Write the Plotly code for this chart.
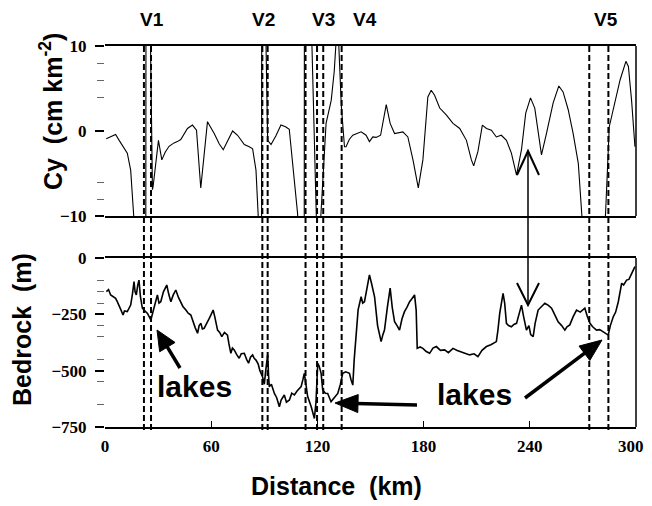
import math
import plotly.graph_objects as go

# ---------------- data ----------------
cy_km = [0.7, 3.5, 6.0, 8.0, 9.8, 12.6, 14.5, 16.4, 17.5, 22.9, 23.3, 25.6, 26.8, 27.2,
         30.2, 32.1, 34.0, 36.2, 39.0, 40.9, 42.8, 44.5, 46.6, 49.4, 51.7, 54.1, 57.9,
         61.7, 64.5, 66.8, 69.5, 72.1, 74.9, 78.7, 81.5, 83.4, 85.3, 86.2, 86.8, 88.3,
         88.7, 90.9, 91.9, 93.8, 96.5, 99.4, 102.0, 104.1, 106.5, 108.8, 109.5, 112.4,
         112.8, 116.8, 119.5, 121.8, 124.9, 127.8, 129.5, 130.6, 131.3, 132.1, 133.5,
         135.3, 136.2, 138.0, 140.0, 144.7, 147.5, 149.4, 151.3, 153.2, 155.7, 158.9,
         161.1, 163.6, 168.3, 171.1, 174.0, 177.0, 179.6, 182.4, 184.3, 186.2, 189.1,
         192.8, 196.6, 200.4, 204.2, 207.0, 208.3, 210.7, 213.2, 215.5, 218.3, 221.1,
         223.9, 226.8, 229.6, 232.5, 235.3, 237.7, 240.4, 242.8, 246.6, 249.4, 253.2,
         256.4, 258.8, 261.7, 264.5, 267.4, 269.6, 270.5, 276.0, 282.0, 282.8, 284.9,
         288.1, 291.0, 294.3, 295.7, 297.5, 299.4]
cy_val = [-0.9, -0.6, -0.4, -1.1, -1.7, -2.6, -4.6, -9.9, -14, -60, 60, 12, -6.9, -6.5,
          -1.1, -3.4, -2.5, -1.8, -1.4, -1.25, -1.0, -0.4, 0.3, 0.7, 0.1, -6.7, 1.1,
          -0.3, -1.5, -2.2, -1.0, 0.0, -0.5, -1.6, -1.85, -2.1, -4.6, -8.5, -11, -60,
          60, 11, -1.1, -1.6, -0.6, 0.7, 0.5, 0.2, -5.0, -9.7, -13, -60,
          60, 11, -11, -10.5, 0.9, 3.6, 7.0, 10.0, 13.0, 10.0, 3.0,
          -1.85, -1.85, -1.0, -0.5, -0.1, -0.5, -1.25, -0.7, -0.75, -0.5, 3.1,
          0.9, -0.3, -0.1, -0.7, -3.4, -6.7, -3.4, 4.0, 4.8, 4.2, 2.7,
          1.9, 0.9, 0.3, -1.1, -3.4, -4.1, -2.4, 0.7, 0.3, 0.1, -0.7,
          -0.5, -1.1, -2.6, -5.2, -2.2, 2.1, 3.9, 2.7, -2.8, -0.3, 3.3,
          5.3, 4.6, 2.5, -0.3, -3.8, -9.7, -12, -30, -12, -9.7, 0.5,
          3.3, 6.0, 8.2, 7.6, 3.6, -1.85]

bed_km = [0.75, 2.0, 3.2, 4.5, 6.0, 7.0, 7.9, 9.0, 10.2, 11.0, 12.6, 13.5, 14.5, 15.5,
          16.4, 17.0, 17.7, 18.5, 19.2, 20.0, 21.1, 22.5, 24.0, 25.9, 27.0, 27.7, 28.5,
          29.6, 30.5, 31.5, 33.0, 34.9, 36.0, 37.2, 38.5, 40.0, 41.5, 42.8, 44.0, 45.7,
          47.0, 48.5, 50.0, 51.0, 52.3, 53.2, 54.2, 55.0, 56.0, 57.5, 58.9, 60.0, 61.1,
          62.0, 63.6, 64.8, 66.0, 67.5, 69.2, 70.0, 71.1, 72.0, 73.0, 74.5, 75.8, 77.0,
          78.7, 80.0, 81.1, 82.2, 83.4, 84.3, 85.3, 86.5, 87.5, 89.0, 90.0, 90.8, 91.9,
          92.4, 92.8, 94.0, 95.7, 97.0, 98.5, 99.5, 101.3, 102.5, 104.2, 105.5, 107.0,
          108.5, 110.8, 111.8, 112.6, 113.5, 114.5, 116.5, 118.3, 119.2, 120.2, 121.0,
          122.1, 123.0, 124.5, 125.8, 127.7, 129.5, 131.5, 133.0, 134.3, 136.0, 138.1,
          139.0, 140.0, 140.8, 141.9, 143.0, 144.7, 145.6, 146.6, 148.0, 149.4, 150.5,
          152.3, 154.0, 156.0, 157.0, 157.9, 159.5, 161.1, 162.3, 163.6, 165.0, 166.4,
          167.8, 169.2, 170.5, 172.1, 173.5, 174.9, 175.8, 176.4, 178.0, 179.6, 181.5,
          183.4, 185.3, 187.2, 189.5, 191.9, 194.0, 196.6, 199.0, 201.3, 203.5, 206.0,
          208.5, 210.7, 213.0, 215.5, 218.0, 221.1, 222.0, 223.0, 224.9, 225.8, 226.8,
          228.0, 229.6, 231.0, 232.5, 234.0, 235.3, 236.5, 238.1, 239.5, 240.5, 241.9,
          243.0, 244.7, 246.5, 248.5, 250.5, 252.3, 254.0, 256.0, 258.0, 259.8, 261.0,
          262.6, 264.5, 266.4, 268.5, 271.1, 272.5, 274.0, 275.5, 277.7, 279.5, 281.5,
          283.0, 284.3, 285.5, 287.2, 288.5, 290.0, 291.9, 293.0, 294.7, 296.0, 297.6,
          299.4]
bed_m = [-149, -140, -164, -170, -179, -195, -209, -230, -253, -235, -238, -225, -209, -160,
         -105, -150, -164, -120, -98, -170, -223, -235, -246, -275, -240, -216, -190,
         -164, -200, -194, -150, -120, -160, -194, -165, -142, -175, -194, -215, -231,
         -245, -253, -290, -310, -334, -300, -290, -315, -312, -285, -268, -250, -231,
         -260, -320, -330, -349, -330, -342, -380, -423, -400, -408, -430, -445, -425,
         -423, -450, -467, -440, -430, -445, -453, -470, -500, -527, -560, -500, -430,
         -520, -571, -560, -601, -620, -660, -630, -608, -640, -630, -600, -608,
         -590, -571, -540, -512, -560, -615, -660, -712, -640, -467, -480,
         -512, -586, -600, -601, -638, -620, -601, -560, -512, -505, -512,
         -540, -564, -450, -320, -230, -172, -200, -194, -130, -75, -110,
         -172, -300, -371, -340, -320, -220, -134, -220, -283, -300, -320,
         -270, -238, -220, -194, -180, -164, -231, -401, -395, -401, -415,
         -423, -400, -393, -410, -408, -420, -401, -410, -416, -425, -430,
         -425, -438, -410, -393, -385, -371, -320, -246, -157, -200, -290,
         -300, -305, -295, -290, -250, -209, -260, -320, -300, -340, -349,
         -290, -231, -215, -201, -210, -223, -250, -283, -300, -320, -305,
         -297, -260, -231, -240, -223, -260, -290, -305, -320, -318, -327,
         -335, -342, -300, -260, -240, -194, -112, -120, -98, -95, -68,
         -38]

vline_km = [22.0, 26.0, 88.9, 91.9, 113.3, 119.8, 123.3, 133.7, 273.6, 284.4]
v_labels = ["V1", "V2", "V3", "V4", "V5"]
v_label_km = [26.4, 89.3, 123.7, 146.9, 283.0]

x_ticks = [0, 60, 120, 180, 240, 300]
cy_ticks = [-10, 0, 10]
cy_minor = [-8, -6, 4, 6, 8]
bed_ticks = [0, -250, -500, -750]
bed_minor = [-100, -150, -200, -300, -350, -450, -550, -650]

# ---------------- figure ----------------
SANS = "Liberation Sans, Arial, sans-serif"
SERIF = "Liberation Serif"
tickfont = dict(family=SERIF, size=17, color="black", weight="bold")

# plot-area geometry in page pixels (the page adds an 8px body margin)
PL, PR, PT, PB = 105, 636, 46, 427
KM_PX = (PR - PL) / 300.0


def to_km(px):
    return (px - PL) / KM_PX


def to_paper(py):
    return (PB - py) / (PB - PT)


fig = go.Figure()
fig.add_trace(go.Scatter(x=cy_km, y=cy_val, mode="lines", xaxis="x", yaxis="y",
                         line=dict(color="black", width=1.1), showlegend=False))
fig.add_trace(go.Scatter(x=bed_km, y=bed_m, mode="lines", xaxis="x2", yaxis="y2",
                         line=dict(color="black", width=1.6), showlegend=False))

top_dom = [1 - 170 / 381, 1]
bot_dom = [0, 169 / 381]

W, H = 652, 506
fig.update_layout(
    width=W, height=H,
    margin=dict(l=PL - 8, r=W - (PR - 8), t=PT - 8, b=H - (PB - 8)),
    paper_bgcolor="white", plot_bgcolor="white",
    showlegend=False,
    xaxis=dict(domain=[0, 1], range=[0, 300], anchor="y", showline=True, mirror=True,
               linecolor="black", linewidth=1.5, showgrid=False, zeroline=False,
               showticklabels=False, ticks=""),
    yaxis=dict(domain=top_dom, range=[-10, 10], anchor="x", showline=False,
               showgrid=False, zeroline=False, tickvals=cy_ticks, ticks="outside",
               ticklen=9, tickwidth=1.5, tickcolor="black", tickfont=tickfont,
               ticklabelstandoff=5,
               minor=dict(tickvals=cy_minor, ticks="outside", ticklen=7,
                          tickcolor="#666", tickwidth=1)),
    # the last label (at the right frame) is drawn separately so it stays in the window
    xaxis2=dict(domain=[0, 1], range=[0, 300], anchor="y2", showline=True, mirror=True,
                linecolor="black", linewidth=1.5, showgrid=False, zeroline=False,
                tickvals=x_ticks[:-1], ticks="inside", ticklen=6,
                tickwidth=1.2, tickcolor="black", tickfont=tickfont, ticklabelstandoff=3),
    yaxis2=dict(domain=bot_dom, range=[-750, 0], anchor="x2", showline=False,
                showgrid=False, zeroline=False, tickvals=bed_ticks, ticks="outside",
                ticklen=9, tickwidth=1.5, tickcolor="black", tickfont=tickfont,
                ticklabelstandoff=5,
                minor=dict(tickvals=bed_minor, ticks="outside", ticklen=7,
                           tickcolor="#666", tickwidth=1)),
)

shapes = []
for xr, yr in (("x domain", "y domain"), ("x2 domain", "y2 domain")):
    shapes.append(dict(type="line", xref=xr, yref=yr, x0=1, x1=1, y0=0, y1=1,
                       line=dict(color="black", width=1.5)))
for xv in vline_km:
    shapes.append(dict(type="line", xref="x", yref="paper", x0=xv, x1=xv,
                       y0=-0.008, y1=1.008,
                       line=dict(color="black", width=2, dash="6px,3px")))

# double-headed thin arrow with open heads
ax_px, top_py, bot_py = 528, 151, 305
shapes.append(dict(type="line", xref="x", yref="paper", x0=to_km(ax_px), x1=to_km(ax_px),
                   y0=to_paper(bot_py), y1=to_paper(top_py),
                   line=dict(color="black", width=1.5)))
for tip, back in ((top_py, top_py + 24), (bot_py, bot_py - 22)):
    shapes.append(dict(type="path", xref="x", yref="paper",
                       path=(f"M {to_km(ax_px - 11)},{to_paper(back)} "
                             f"L {to_km(ax_px)},{to_paper(tip)} "
                             f"L {to_km(ax_px + 11)},{to_paper(back)}"),
                       line=dict(color="black", width=2)))


def thick_arrow(hx, hy, tx, ty, length, half):
    dx, dy = hx - tx, hy - ty
    d = math.hypot(dx, dy)
    ux, uy = dx / d, dy / d
    bx, by = hx - ux * length, hy - uy * length
    nx, ny = -uy, ux
    out = [dict(type="line", xref="x", yref="paper", x0=to_km(tx), y0=to_paper(ty),
                x1=to_km(bx + ux * 2), y1=to_paper(by + uy * 2),
                line=dict(color="black", width=3.5))]
    p1 = (bx + nx * half, by + ny * half)
    p2 = (bx - nx * half, by - ny * half)
    out.append(dict(type="path", xref="x", yref="paper",
                    path=(f"M {to_km(hx)},{to_paper(hy)} L {to_km(p1[0])},{to_paper(p1[1])} "
                          f"L {to_km(p2[0])},{to_paper(p2[1])} Z"),
                    fillcolor="black", line=dict(color="black", width=1)))
    return out


shapes += thick_arrow(157, 330, 180, 368, 20, 9)
shapes += thick_arrow(335, 403, 417, 405, 23, 9)
shapes += thick_arrow(602, 340, 525, 398, 22, 9)
fig.update_layout(shapes=shapes)

ann = []
for lab, xk in zip(v_labels, v_label_km):
    ann.append(dict(text=lab, x=xk, y=to_paper(19.5), xref="x", yref="paper",
                    showarrow=False, xanchor="center", yanchor="middle", borderpad=0,
                    font=dict(family=SANS, size=19, color="black", weight="bold")))
ann.append(dict(text=str(x_ticks[-1]), x=x_ticks[-1], y=to_paper(446), xref="x2",
                yref="paper", showarrow=False, xanchor="right", yanchor="middle",
                xshift=9, borderpad=0, font=tickfont))
ann.append(dict(text="Cy  (cm km<sup>-2</sup>)", x=(51 - PL) / (PR - PL), y=to_paper(112),
                xref="paper", yref="paper", textangle=-90, showarrow=False,
                xanchor="center", yanchor="middle",
                font=dict(family=SANS, size=25, color="black", weight="bold")))
ann.append(dict(text="Bedrock  (m)", x=(22 - PL) / (PR - PL), y=to_paper(330),
                xref="paper", yref="paper", textangle=-90, showarrow=False,
                xanchor="center", yanchor="middle",
                font=dict(family=SANS, size=25, color="black", weight="bold")))
ann.append(dict(text="Distance  (km)", x=(336 - PL) / (PR - PL), y=to_paper(486),
                xref="paper", yref="paper", showarrow=False, xanchor="center",
                yanchor="middle", font=dict(family=SANS, size=25, color="black", weight="bold")))
lakes_font = dict(family=SANS, size=30, color="black", weight="bold")
ann.append(dict(text="lakes", x=to_km(194.5), y=to_paper(386), xref="x",
                yref="paper", showarrow=False, xanchor="center", yanchor="middle",
                font=lakes_font))
ann.append(dict(text="lakes", x=to_km(474), y=to_paper(394), xref="x",
                yref="paper", showarrow=False, xanchor="center", yanchor="middle",
                font=lakes_font))
fig.update_layout(annotations=ann)

fig.write_html("out.html")
